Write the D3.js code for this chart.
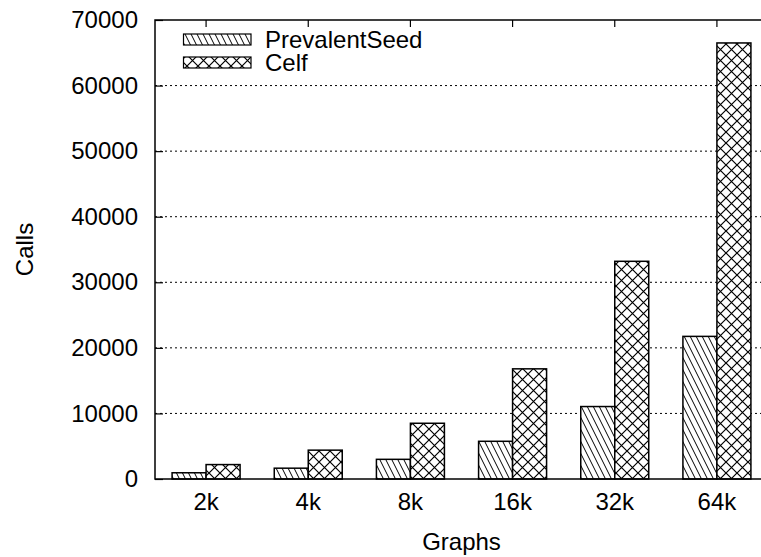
<!DOCTYPE html>
<html>
<head>
<meta charset="utf-8">
<script src="https://cdn.jsdelivr.net/npm/d3@7"></script>
<style>
  html, body { margin: 0; padding: 0; background: #fff; }
  svg { display: block; }
  text { font-family: "Liberation Sans", Arial, Helvetica, sans-serif; fill: #000; }
</style>
</head>
<body>
<svg id="chart" width="761" height="557"></svg>
<script>
// Graph sizes and number of calls for each method
const categories = ["2k", "4k", "8k", "16k", "32k", "64k"];
const seriesNames = ["PrevalentSeed", "Celf"];
const prevalentSeed = [950, 1650, 3000, 5750, 11050, 21750];
const celf = [2200, 4400, 8500, 16800, 33200, 66500];
const yTicks = [0, 10000, 20000, 30000, 40000, 50000, 60000, 70000];

const svg = d3.select("#chart");
const plotLeft = 155, plotRight = 768, plotTop = 20, plotBottom = 479;
const fontSize = 24;

const x = d3.scaleBand().domain(categories).range([plotLeft, plotRight]).padding(0);
const y = d3.scaleLinear().domain([0, 70000]).range([plotBottom, plotTop]);
const barW = 34;

// Fill patterns: diagonal lines and crosshatch
const defs = svg.append("defs");
const p1 = defs.append("pattern").attr("id", "diag")
  .attr("patternUnits", "userSpaceOnUse").attr("width", 6).attr("height", 12);
p1.append("rect").attr("width", 6).attr("height", 12).attr("fill", "#fff");
p1.append("path").attr("d", "M-1,-2L7,14M-7,-2L1,14M5,-2L13,14")
  .attr("stroke", "#000").attr("stroke-width", 1);

const p2 = defs.append("pattern").attr("id", "cross")
  .attr("patternUnits", "userSpaceOnUse").attr("width", 11).attr("height", 11);
p2.append("rect").attr("width", 11).attr("height", 11).attr("fill", "#fff");
p2.append("path").attr("d", "M-1,-1L12,12M12,-1L-1,12")
  .attr("stroke", "#000").attr("stroke-width", 1.2);

const fills = ["url(#diag)", "url(#cross)"];
const seriesData = [prevalentSeed, celf];

// Dotted grid lines
svg.append("g").selectAll("line").data(yTicks.slice(1, -1)).join("line")
  .attr("x1", plotLeft).attr("x2", plotRight)
  .attr("y1", d => y(d)).attr("y2", d => y(d))
  .attr("stroke", "#000").attr("stroke-width", 1)
  .attr("stroke-dasharray", "2,3");

// Y axis ticks and labels
const yAxis = d3.axisLeft(y).tickValues(yTicks).tickSize(-8).tickPadding(17)
  .tickFormat(d3.format("d"));
const gy = svg.append("g").attr("transform", `translate(${plotLeft},0)`).call(yAxis);
gy.select(".domain").remove();
gy.selectAll("line").attr("stroke", "#000").attr("stroke-width", 1.2);
gy.selectAll("text").attr("font-size", fontSize)
  .attr("font-family", "'Liberation Sans', Arial, sans-serif");

// X tick labels (bottom) and mirrored ticks on top border
const xAxis = d3.axisBottom(x).tickSize(0).tickPadding(14);
const gx = svg.append("g").attr("transform", `translate(0,${plotBottom})`).call(xAxis);
gx.select(".domain").remove();
gx.selectAll("text").attr("font-size", fontSize)
  .attr("font-family", "'Liberation Sans', Arial, sans-serif");

const xTop = d3.axisBottom(x).tickSize(7).tickFormat("");
const gxt = svg.append("g").attr("transform", `translate(0,${plotTop})`).call(xTop);
gxt.select(".domain").remove();
gxt.selectAll("line").attr("stroke", "#000").attr("stroke-width", 1.2);

// Bars
seriesData.forEach((vals, s) => {
  svg.append("g").selectAll("rect").data(vals).join("rect")
    .attr("x", (d, i) => x(categories[i]) + x.bandwidth() / 2 - barW + s * barW)
    .attr("y", d => y(d))
    .attr("width", barW)
    .attr("height", d => plotBottom - y(d))
    .attr("fill", fills[s])
    .attr("stroke", "#000").attr("stroke-width", 1.5);
});

// Plot border
svg.append("rect").attr("x", plotLeft).attr("y", plotTop)
  .attr("width", plotRight - plotLeft).attr("height", plotBottom - plotTop)
  .attr("fill", "none").attr("stroke", "#000").attr("stroke-width", 1.5);

// Legend
const legend = svg.append("g");
seriesNames.forEach((name, i) => {
  const cy = 39.5 + i * 23;
  legend.append("rect").attr("x", 183.5).attr("y", cy - 5.5)
    .attr("width", 67.5).attr("height", 11)
    .attr("fill", fills[i]).attr("stroke", "#000").attr("stroke-width", 1.2);
  legend.append("text").attr("x", 265).attr("y", cy)
    .attr("dy", "0.35em").attr("font-size", fontSize).text(name);
});

// Axis titles
svg.append("text").attr("x", (plotLeft + plotRight) / 2).attr("y", 550)
  .attr("text-anchor", "middle").attr("font-size", fontSize).text("Graphs");
svg.append("text").attr("transform", `translate(33,${(plotTop + plotBottom) / 2}) rotate(-90)`)
  .attr("text-anchor", "middle").attr("font-size", fontSize).text("Calls");
</script>
</body>
</html>
